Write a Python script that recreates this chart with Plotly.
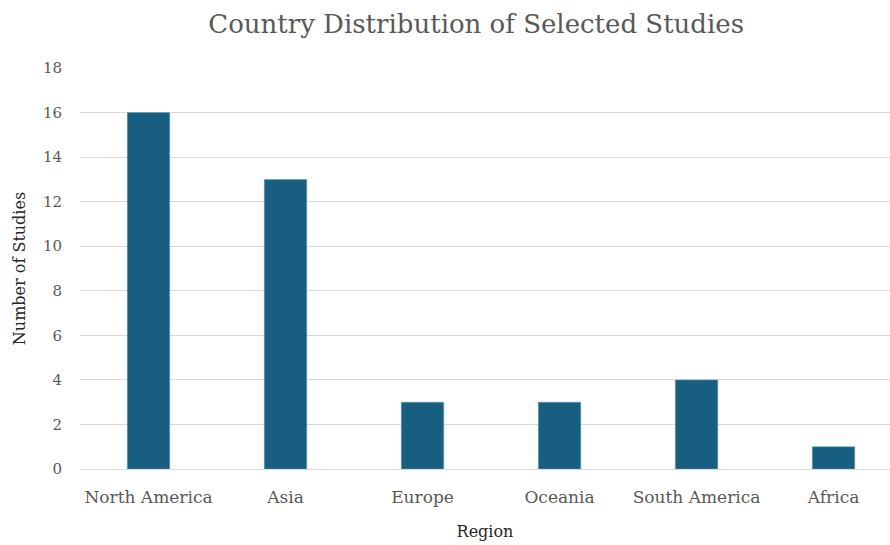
import plotly.graph_objects as go

regions = ["North America", "Asia", "Europe", "Oceania", "South America", "Africa"]
studies = [16, 13, 3, 3, 4, 1]
y_ticks = [0, 2, 4, 6, 8, 10, 12, 14, 16, 18]

FONT = "DejaVu Serif, serif"

fig = go.Figure(go.Bar(
    x=list(range(len(regions))),
    y=studies,
    marker=dict(color="#185E80", line=dict(color="#6f9db5", width=0.5)),
    width=0.31,
))

fig.update_layout(
    width=890, height=545,
    margin=dict(l=80, r=0, t=68, b=76),
    paper_bgcolor="white", plot_bgcolor="white",
    font=dict(family=FONT, color="#595959"),
    title=dict(text="Country Distribution of Selected Studies",
               font=dict(family=FONT, size=26, color="#595959"),
               x=0.535, xanchor="center", y=0.956, yanchor="middle"),
    showlegend=False,
)
fig.update_xaxes(
    tickmode="array", tickvals=list(range(len(regions))), ticktext=regions,
    range=[-0.5, 5.412], showgrid=False, showline=True, linecolor="#d9d9d9",
    linewidth=1, ticks="", ticklabelstandoff=13, tickfont=dict(size=17, color="#595959"),
    title=dict(text="Region", font=dict(size=16, color="#262626"), standoff=19),
    zeroline=False,
)
fig.update_yaxes(
    range=[0, 18], tickmode="array", tickvals=y_ticks,
    showgrid=True, gridcolor="#d9d9d9", gridwidth=1, zeroline=False,
    ticks="", ticklabelstandoff=17, tickfont=dict(size=15, color="#595959"),
    title=dict(text="Number of Studies", font=dict(size=16, color="#262626"), standoff=13),
)

fig.write_html("out.html")
